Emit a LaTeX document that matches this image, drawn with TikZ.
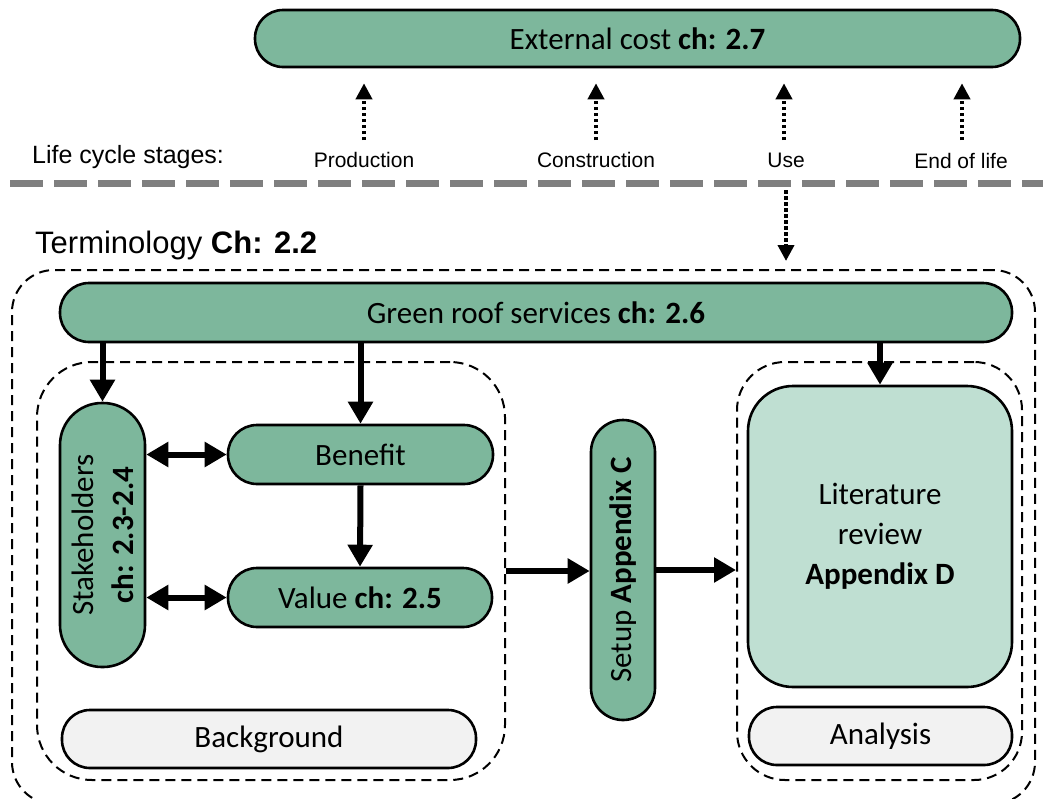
\documentclass[tikz,border=0pt]{standalone}
\usepackage{fontspec}
\setmainfont{Carlito}
\newfontfamily\arialfont{Liberation Sans}
\usetikzlibrary{arrows.meta}
\definecolor{sage}{HTML}{7DB79C}
\definecolor{mint}{HTML}{BFDFD2}
\definecolor{paper}{HTML}{F2F2F2}
\definecolor{stagegray}{HTML}{7F7F7F}
\begin{document}
\begin{tikzpicture}[x=1pt,y=-1pt,
  box/.style={draw=black, line width=2.6pt, inner sep=0pt, align=center,
    font=\fontsize{31}{40}\selectfont},
  pill/.style={box, fill=sage, rounded corners=#1},
  pill/.default=28pt,
  greypill/.style={box, fill=paper, rounded corners=28pt},
  dbox/.style={draw=black, line width=2pt, dash pattern=on 10pt off 6pt,
    inner sep=0pt, rounded corners=#1},
  dbox/.default=45pt,
  stage/.style={font=\arialfont\fontsize{21}{25}\selectfont, inner sep=0pt},
  thick/.style={line width=6pt, -{Triangle[length=22pt,width=24pt]}},
  twoway/.style={line width=6pt,
    {Triangle[length=22pt,width=24pt]}-{Triangle[length=22pt,width=24pt]}},
  dotarrow/.style={line width=3.8pt, dash pattern=on 3.5pt off 2.5pt,
    -{Triangle[length=16pt,width=16pt]}},
]
\useasboundingbox (0,0) rectangle (1043,798);
\clip (0,0) rectangle (1043,798);

% top: external cost and the life cycle stages
\node[pill, minimum width=765pt, minimum height=57pt] (ext) at (637.5,38.5)
  {External cost \textbf{ch: 2.7}};

\node[stage, font=\arialfont\fontsize{25}{29}\selectfont, anchor=west] (lcs) at (32,157)
  {Life cycle stages:};
\node[stage] (prod) at (364,160) {Production};
\node[stage] (cons) at (596,160) {Construction};
\node[stage] (use)  at (786,160) {Use};
\node[stage] (eol)  at (961,161) {End of life};

\foreach \s/\x in {prod/364, cons/596, use/784, eol/962}{
  \coordinate (\s-foot) at (\x,140);
  \draw[dotarrow, shorten >=15pt] (\s-foot) -- (\s-foot |- ext.south);
}

% separator line for the life cycle
\draw[stagegray, line width=7pt, dash pattern=on 33pt off 11pt]
  (10,183) -- (1043,183);

% terminology frame
\node[anchor=west, inner sep=0pt, font=\arialfont\fontsize{31}{36}\selectfont]
  (term) at (35,245) {Terminology \textbf{Ch: 2.2}};
\node[dbox=42pt, minimum width=1023pt, minimum height=534pt] (outer) at (523.5,537) {};

\coordinate (use-drop) at (786,190);
\draw[dotarrow, shorten >=8pt] (use-drop) -- (use-drop |- outer.north);

% group frames
\node[dbox=55pt, minimum width=468pt, minimum height=418pt] (leftgrp) at (271,571) {};
\node[dbox=48pt, minimum width=285pt, minimum height=418pt] (rightgrp) at (879.5,571) {};

% boxes
\node[pill=29pt, minimum width=952pt, minimum height=59pt] (grs) at (536,312.5)
  {Green roof services \textbf{ch: 2.6}};
\node[pill=42pt, rotate=90, minimum width=264pt, minimum height=85pt] (stake) at (102.5,535)
  {Stakeholders\\\textbf{ch: 2.3-2.4}};
\node[pill=29pt, minimum width=265pt, minimum height=59pt] (benefit) at (360.5,454.5)
  {Benefit};
\node[pill=29pt, minimum width=264pt, minimum height=59pt] (value) at (360,597.5)
  {Value \textbf{ch: 2.5}};
\node[greypill, minimum width=414pt, minimum height=58pt] (bground) at (269,739)
  {Background};
\node[pill=32pt, rotate=90, minimum width=300pt, minimum height=64pt] (setup) at (623,570)
  {Setup \textbf{Appendix C}};
\node[box, fill=mint, rounded corners=45pt, minimum width=264pt, minimum height=301pt]
  (lit) at (880,536.5) {Literature\\review\\\textbf{Appendix D}};
\node[greypill, minimum width=263pt, minimum height=58pt] (analysis) at (880.5,736)
  {Analysis};

% connectors
\draw[thick] (grs.south -| stake.east) -- (stake.east);
\draw[thick] (grs.south -| benefit.north) -- (benefit.north);
\draw[thick] (grs.south -| lit.north) -- (lit.north);
\draw[thick] (benefit.south) -- (value.north);
\draw[twoway] (benefit.west -| stake.south) -- (benefit.west);
\draw[twoway] (value.west -| stake.south) -- (value.west);
\draw[thick] (leftgrp.east) -- (leftgrp.east -| setup.north);
\draw[thick] (setup.south) -- (setup.south -| rightgrp.west);
\end{tikzpicture}
\end{document}
